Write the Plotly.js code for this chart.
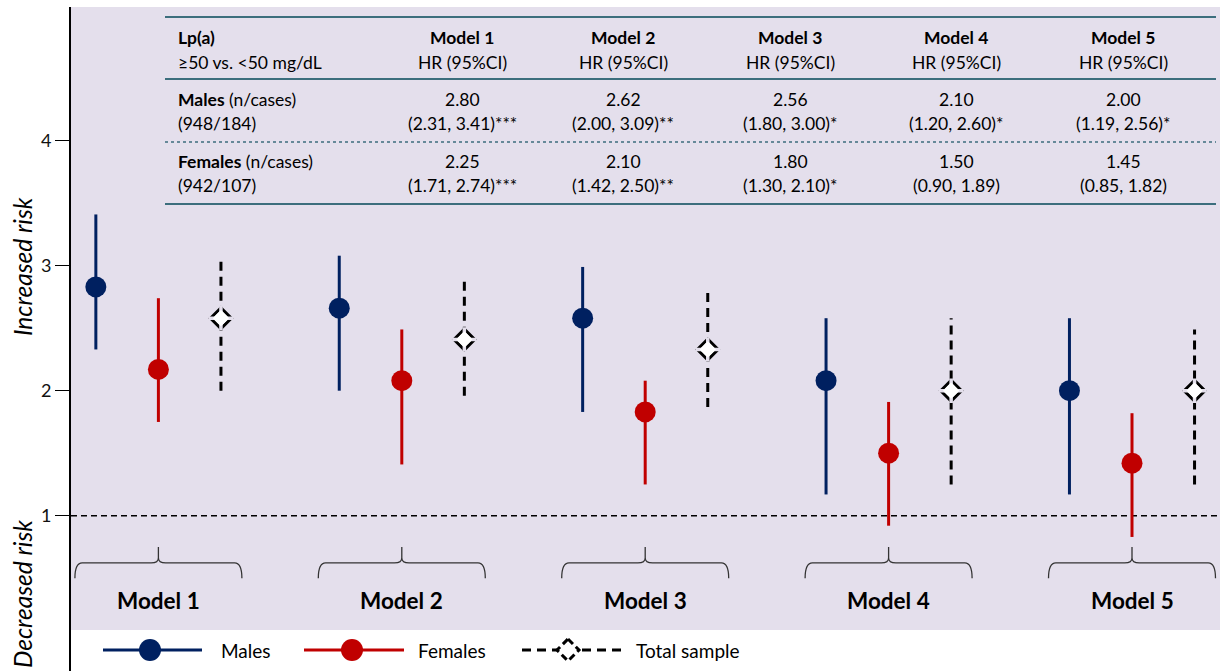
<!DOCTYPE html>
<html>
<head>
<meta charset="utf-8">
<script src="https://cdn.plot.ly/plotly-3.0.1.min.js"></script>
<style>html,body{margin:0;padding:0;background:#fff;}#chart{width:1220px;height:671px;}</style>
</head>
<body>
<div id="chart"></div>
<script>
// ---------- DATA ----------
const modelNames = ['Model 1', 'Model 2', 'Model 3', 'Model 4', 'Model 5'];

const maleHR   = [2.83, 2.66, 2.58, 2.08, 2.00];
const maleLo   = [2.33, 2.00, 1.83, 1.17, 1.17];
const maleHi   = [3.41, 3.08, 2.99, 2.58, 2.58];

const femaleHR = [2.17, 2.08, 1.83, 1.50, 1.42];
const femaleLo = [1.75, 1.41, 1.25, 0.92, 0.83];
const femaleHi = [2.74, 2.49, 2.08, 1.91, 1.82];

const totalHR  = [2.58, 2.41, 2.33, 2.00, 2.00];
const totalLo  = [2.00, 1.96, 1.87, 1.25, 1.25];
const totalHi  = [3.08, 2.91, 2.82, 2.58, 2.49];

const yTicks = [1, 2, 3, 4];

// table texts
const tableHeadLeft = ['<b>Lp(a)</b>', '≥50 vs. <50 mg/dL'];
const tableSubHead = 'HR (95%CI)';
const maleRowLabel = ['<b>Males</b> (n/cases)', '(948/184)'];
const femaleRowLabel = ['<b>Females</b> (n/cases)', '(942/107)'];
const maleTableHR   = ['2.80', '2.62', '2.56', '2.10', '2.00'];
const maleTableCI   = ['(2.31, 3.41)***', '(2.00, 3.09)**', '(1.80, 3.00)*', '(1.20, 2.60)*', '(1.19, 2.56)*'];
const femaleTableHR = ['2.25', '2.10', '1.80', '1.50', '1.45'];
const femaleTableCI = ['(1.71, 2.74)***', '(1.42, 2.50)**', '(1.30, 2.10)*', '(0.90, 1.89)', '(0.85, 1.82)'];

const legendNames = ['Males', 'Females', 'Total sample'];

// ---------- STYLE ----------
const NAVY = '#002060', RED = '#C00000', LAV = '#E4DFEC', TEAL = '#3C6E7D';
const FONT = 'Lato, "Open Sans", sans-serif';
const W = 1220, H = 671, L = 71, T = 7;
const px2x = px => (px - L) / (W - L);
const py2y = py => (H - py) / (H - T);

const OFF = 0.257;                 // offset of series within a group (x units)
const groupX = modelNames.map((_, i) => i);

function ciTrace(off, lo, hi, color, dash) {
  const xs = [], ys = [];
  groupX.forEach((g, i) => { xs.push(g + off, g + off, null); ys.push(lo[i], hi[i], null); });
  return {type: 'scatter', mode: 'lines', x: xs, y: ys, hoverinfo: 'skip',
          line: {color: color, width: 3, dash: dash || 'solid'}, showlegend: false};
}
const gx = off => groupX.map(g => g + off);

const traces = [
  ciTrace(-OFF, maleLo, maleHi, NAVY),
  ciTrace(0, femaleLo, femaleHi, RED),
  ciTrace(OFF, totalLo, totalHi, '#000', '9px,6px'),
  {type: 'scatter', mode: 'markers', x: gx(-OFF), y: maleHR, name: legendNames[0],
   marker: {symbol: 'circle', size: 21, color: NAVY}, showlegend: false},
  {type: 'scatter', mode: 'markers', x: gx(0), y: femaleHR, name: legendNames[1],
   marker: {symbol: 'circle', size: 21, color: RED}, showlegend: false},
  {type: 'scatter', mode: 'markers', x: gx(OFF), y: totalHR, name: legendNames[2],
   marker: {symbol: 'diamond', size: 16, color: '#fff', line: {color: '#000', width: 3}}, showlegend: false},
  // corner cuts to give the diamond outline a dashed look
  {type: 'scatter', mode: 'markers', x: gx(OFF), y: totalHR, hoverinfo: 'skip',
   marker: {symbol: 'cross-thin-open', size: 17.5, color: LAV, line: {color: LAV, width: 3.5}}, showlegend: false},
  {type: 'scatter', mode: 'markers', x: gx(OFF), y: totalHR, hoverinfo: 'skip',
   marker: {symbol: 'diamond', size: 12.5, color: '#fff', line: {width: 0}}, showlegend: false}
];

// ---------- SHAPES ----------
const shapes = [];
shapes.push({type: 'rect', xref: 'paper', yref: 'paper', x0: 0, x1: 1, y0: py2y(630), y1: 1,
             fillcolor: LAV, line: {width: 0}, layer: 'below'});
shapes.push({type: 'line', xref: 'paper', yref: 'y', x0: 0, x1: 1, y0: 1, y1: 1,
             line: {color: '#000', width: 1.5, dash: '6px,4px'}, layer: 'below'});

// table rules
[[17, 'solid', 2.2], [79, 'solid', 2.2], [142, 'dot', 1.5], [204, 'solid', 2.2]].forEach(r => {
  shapes.push({type: 'line', xref: 'paper', yref: 'paper', x0: px2x(165), x1: px2x(1216),
               y0: py2y(r[0]), y1: py2y(r[0]), line: {color: TEAL, width: r[2], dash: r[1]}});
});

// braces
const BW = 0.343, yEnd = 0.50, yBar = 0.622, yTip = 0.75, cr = 0.03;
groupX.forEach(c => {
  const l = c - BW, r = c + BW;
  const p = `M${l},${yEnd} Q${l},${yBar} ${l + cr},${yBar} L${c - cr},${yBar} Q${c},${yBar} ${c},${yBar + 0.04} L${c},${yTip} ` +
            `M${c},${yBar + 0.04} Q${c},${yBar} ${c + cr},${yBar} L${r - cr},${yBar} Q${r},${yBar} ${r},${yEnd}`;
  shapes.push({type: 'path', xref: 'x', yref: 'y', path: p, line: {color: '#333', width: 1.3}});
});

// legend (manual)
const LY = py2y(650);
[[103, 202, 150, NAVY], [304, 404, 352, RED]].forEach(l => {
  shapes.push({type: 'line', xref: 'paper', yref: 'paper', x0: px2x(l[0]), x1: px2x(l[1]), y0: LY, y1: LY,
               line: {color: l[3], width: 3}});
  shapes.push({type: 'circle', xref: 'paper', yref: 'paper', xsizemode: 'pixel', ysizemode: 'pixel',
               xanchor: px2x(l[2]), yanchor: LY, x0: -11, x1: 11, y0: -11, y1: 11,
               fillcolor: l[3], line: {width: 0}});
});
shapes.push({type: 'line', xref: 'paper', yref: 'paper', x0: px2x(522), x1: px2x(622), y0: LY, y1: LY,
             line: {color: '#000', width: 3, dash: '9px,6px'}});
shapes.push({type: 'path', xref: 'paper', yref: 'paper', xsizemode: 'pixel', ysizemode: 'pixel',
             xanchor: px2x(568), yanchor: LY, path: 'M0,11 L11,0 L0,-11 L-11,0 Z',
             fillcolor: '#fff', line: {color: '#000', width: 3, dash: '7px,4px'}});

// ---------- ANNOTATIONS ----------
const ann = [];
function txt(text, x, y, size, anchor, extra) {
  ann.push(Object.assign({text: text, xref: 'paper', yref: 'paper', x: px2x(x), y: py2y(y), showarrow: false,
    xanchor: anchor || 'center', yanchor: 'middle', font: {family: FONT, size: size, color: '#000'}}, extra || {}));
}
const TS = 17.5;
const colX = [462, 623, 790, 956, 1123];
txt(tableHeadLeft[0], 176, 37, TS, 'left');
txt(tableHeadLeft[1], 176, 62, TS, 'left');
txt(maleRowLabel[0], 176, 100, TS, 'left');
txt(maleRowLabel[1], 176, 124, TS, 'left');
txt(femaleRowLabel[0], 176, 161, TS, 'left');
txt(femaleRowLabel[1], 176, 185, TS, 'left');
modelNames.forEach((m, i) => {
  txt('<b>' + m + '</b>', colX[i], 37, TS);
  txt(tableSubHead, colX[i], 62, TS);
  txt(maleTableHR[i], colX[i], 100, TS);
  txt(maleTableCI[i], colX[i], 124, TS);
  txt(femaleTableHR[i], colX[i], 161, TS);
  txt(femaleTableCI[i], colX[i], 185, TS);
  ann.push({text: '<b>' + m + '</b>', xref: 'x', yref: 'y', x: groupX[i], y: 0.318, showarrow: false,
            xanchor: 'center', yanchor: 'middle', font: {family: FONT, size: 22.5, color: '#000'}});
});
// axis side titles
txt('<i>Increased risk</i>', 22, 267, 24.5, 'center', {textangle: -90});
txt('<i>Decreased risk</i>', 22, 594, 24.5, 'center', {textangle: -90});
// legend texts
txt(legendNames[0], 219, 650, 19, 'left');
txt(legendNames[1], 416, 650, 19, 'left');
txt(legendNames[2], 634, 650, 19, 'left');

// ---------- LAYOUT ----------
const x0 = -(158.4 - L) / 243.4;
const layout = {
  width: W, height: H,
  margin: {l: L, r: 0, t: T, b: 0, pad: 0},
  paper_bgcolor: '#fff', plot_bgcolor: '#fff',
  showlegend: false,
  xaxis: {range: [x0, x0 + (W - L) / 243.4], visible: false, fixedrange: true},
  yaxis: {range: [-0.2424, 5.0696], tickvals: yTicks, ticktext: yTicks.map(String),
          ticks: 'outside', ticklen: 14, tickwidth: 1.5, tickcolor: '#000',
          showline: true, linewidth: 2, linecolor: '#000', showgrid: false, zeroline: false,
          tickfont: {family: FONT, size: 18, color: '#111'}, fixedrange: true},
  shapes: shapes,
  annotations: ann
};
Plotly.newPlot('chart', traces, layout, {displayModeBar: false, staticPlot: true});
</script>
</body>
</html>
